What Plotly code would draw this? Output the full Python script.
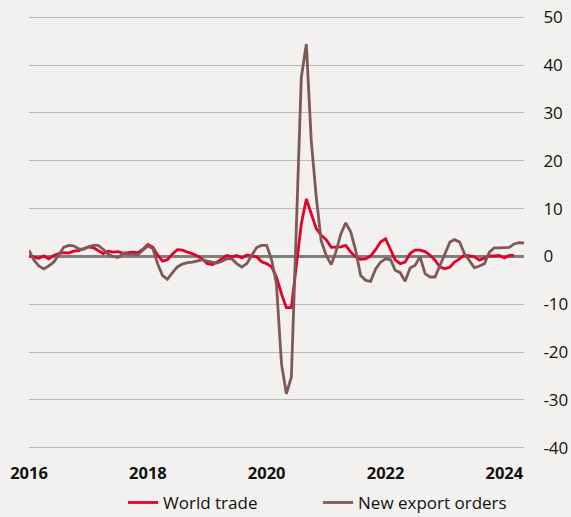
import plotly.graph_objects as go
import pandas as pd

months = pd.date_range("2016-01-01", "2024-05-01", freq="MS")

world_trade = [
    0.1, -0.2, -0.4, 0.1, -0.5, 0.2, 0.6, 0.8, 0.7, 1.1, 1.2, 1.6,
    2.0, 1.8, 1.2, 0.6, 1.1, 0.9, 1.0, 0.7, 0.8, 0.9, 0.8, 1.5,
    2.5, 1.9, 0.3, -1.0, -0.7, 0.5, 1.4, 1.3, 0.9, 0.6, 0.1, -0.5,
    -1.5, -1.7, -1.2, -0.4, 0.2, -0.1, 0.2, -0.3, 0.3, 0.1, -0.1, -1.1,
    -1.5, -2.2, -4.3, -7.8, -10.7, -10.7, -2.0, 6.8, 12.0, 8.9, 5.8, 4.4,
    3.5, 1.9, 1.9, 2.0, 2.3, 0.9, -0.1, -0.6, -0.5, 0.1, 1.4, 3.0,
    3.7, 1.5, -0.7, -1.5, -1.2, 0.6, 1.3, 1.3, 1.0, 0.3, -0.8, -2.2,
    -2.6, -2.2, -1.2, -0.5, 0.3, 0.1, -0.1, -0.8, -0.3, 0.1, 0.1, 0.2,
    -0.3, 0.2, 0.2,
]

new_export_orders = [
    1.3, -0.8, -2.0, -2.6, -2.0, -1.2, 0.3, 1.9, 2.3, 2.2, 1.6, 1.5,
    2.0, 2.3, 2.3, 1.5, 0.5, 0.0, -0.2, 0.6, 0.5, 0.4, 0.4, 1.3,
    2.2, 1.6, -1.5, -4.0, -4.8, -3.4, -2.2, -1.6, -1.3, -1.2, -0.9, -0.7,
    -1.0, -1.2, -1.4, -1.0, -0.5, -0.5, -1.5, -2.2, -1.5, 0.2, 1.9, 2.3,
    2.3, -0.8, -5.7, -22.4, -28.7, -25.2, 5.0, 37.4, 44.4, 24.2, 12.4, 3.3,
    0.2, -1.7, 0.9, 4.7, 7.0, 5.1, 1.3, -4.0, -5.0, -5.2, -2.6, -1.2,
    -0.5, -0.7, -2.9, -3.4, -5.2, -2.4, -1.9, -0.1, -3.6, -4.3, -4.3, -1.9,
    0.9, 3.0, 3.5, 3.0, 0.6, -0.8, -2.4, -2.0, -1.5, 0.9, 1.8, 1.8,
    1.9, 1.9, 2.6, 2.9, 2.8,
]

x_tick_vals = ["2016-01-01", "2018-01-01", "2020-01-01", "2022-01-01", "2024-01-01"]
x_tick_text = ["2016", "2018", "2020", "2022", "2024"]
y_tick_vals = [-40, -30, -20, -10, 0, 10, 20, 30, 40, 50]
y_tick_text = ["-40", "-30", "-20", "-10", "0", "10", "20", "30", "40", "50"]

BG = "#f2f1ef"
FONT = "Open Sans, Noto Sans, DejaVu Sans, sans-serif"

fig = go.Figure()
fig.add_trace(go.Scatter(
    x=months[:len(world_trade)], y=world_trade, mode="lines", name="World trade",
    line=dict(color="#e3002b", width=2.8),
))
fig.add_trace(go.Scatter(
    x=months[:len(new_export_orders)], y=new_export_orders, mode="lines",
    name="New export orders",
    line=dict(color="#7d5a58", width=2.8),
))

fig.update_layout(
    width=571, height=517,
    paper_bgcolor=BG, plot_bgcolor=BG,
    margin=dict(l=29, r=47, t=16, b=68, autoexpand=False),
    font=dict(family=FONT, size=15, color="#111111"),
    showlegend=True,
    legend=dict(orientation="h", x=0.19, xanchor="left", y=-0.083, yanchor="top",
                font=dict(size=17, color="#111111"),
                entrywidth=150, entrywidthmode="pixels",
                bgcolor="rgba(0,0,0,0)"),
    xaxis=dict(
        type="date",
        range=["2016-01-01", "2024-05-01"],
        tickvals=x_tick_vals, ticktext=x_tick_text,
        showgrid=False, zeroline=False, showline=False, automargin=False,
        ticks="outside", ticklen=9, tickcolor=BG,
        tickfont=dict(family=FONT, size=16.5, color="#111111", weight="bold"),
    ),
    yaxis=dict(
        side="right",
        range=[-40.25, 50.25],
        tickvals=y_tick_vals, ticktext=y_tick_text,
        showgrid=True, gridcolor="#b9b8b6", gridwidth=1,
        zeroline=True, zerolinecolor="#7f7f7f", zerolinewidth=2.5,
        showline=False, automargin=False,
        ticks="outside", ticklen=15, tickcolor=BG,
        tickfont=dict(family=FONT, size=17, color="#111111"),
    ),
)

fig.write_html(
    "out.html",
    config={"displayModeBar": False},
    post_script="document.body.style.margin='0';document.body.style.overflow='hidden';",
)
